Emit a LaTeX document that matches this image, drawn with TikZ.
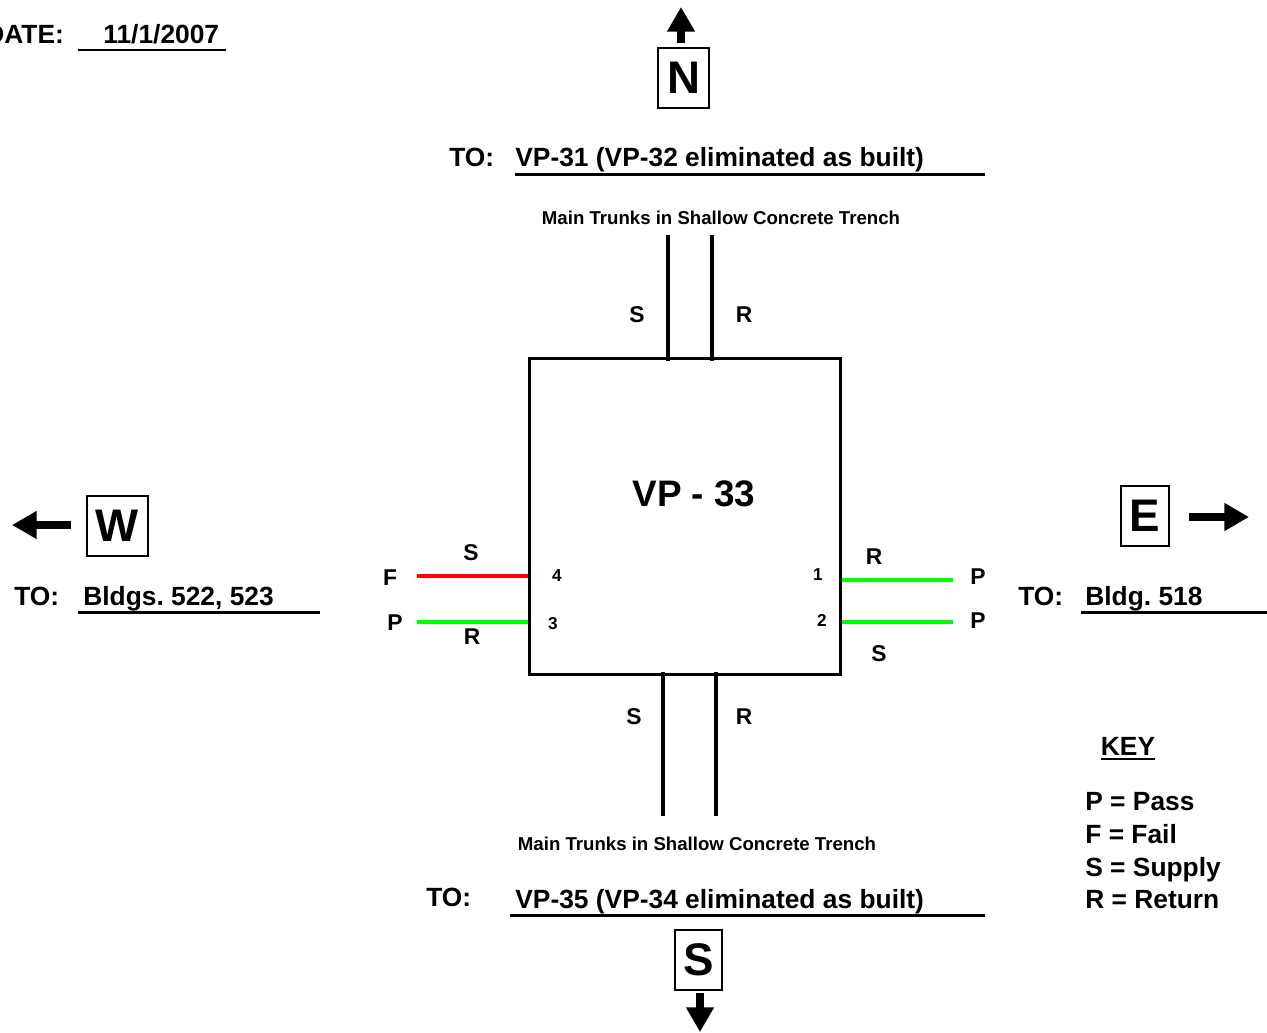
\documentclass[tikz,border=0pt]{standalone}
\usepackage{fontspec}
\setmainfont{Liberation Sans}
\usetikzlibrary{arrows.meta}
\frenchspacing

\begin{document}
\begin{tikzpicture}[x=0.02cm,y=-0.02cm,
    txt/.style={inner sep=0pt,font=\bfseries\fontsize{15}{18}\selectfont},
    tag/.style={inner sep=0pt,font=\bfseries\fontsize{13}{15}\selectfont},
    num/.style={inner sep=0pt,font=\bfseries\fontsize{9.8}{11}\selectfont},
    note/.style={inner sep=0pt,font=\bfseries\fontsize{10.6}{13}\selectfont},
    compass/.style={draw,line width=0.8pt,inner sep=0pt,font=\bfseries\fontsize{26}{30}\selectfont},
    dirarrow/.style={line width=5pt,-{Triangle[width=15pt,length=14pt]}},
    uline/.style={line width=1.7pt},
    trunk/.style={line width=2.4pt},
    pipe/.style={line width=2.8pt}]
  \useasboundingbox (0,0) rectangle (1267,1032);

  % date
  \node[txt,anchor=base west] (datelbl) at (-15,43) {DATE:};
  \node[txt,anchor=base west] (dateval) at (103,43) {11/1/2007};
  \draw[uline] (78,50) -- (226,50);

  % compass boxes and arrows
  \node[compass,minimum width=28.9pt,minimum height=34pt] (Nbox) at (683.5,78) {N};
  \node[compass,minimum width=34.6pt,minimum height=34pt] (Wbox) at (117.5,526) {W};
  \node[compass,minimum width=27.2pt,minimum height=34pt] (Ebox) at (1145,516) {E};
  \node[compass,minimum width=26.6pt,minimum height=34pt] (Sbox) at (698.5,960) {S};
  \coordinate (nTip) at (681,7);
  \coordinate (wTip) at (12,525);
  \coordinate (eTip) at (1249,517);
  \coordinate (sTip) at (700,1032);
  \draw[dirarrow,shorten <=2.3pt] (Nbox.north -| nTip) -- (nTip);
  \draw[dirarrow,shorten <=8.5pt] (Wbox.west |- wTip) -- (wTip);
  \draw[dirarrow,shorten <=10.8pt] (Ebox.east |- eTip) -- (eTip);
  \draw[dirarrow,shorten <=1.1pt] (Sbox.south -| sTip) -- (sTip);

  % destinations
  \node[txt,anchor=base west] (toN) at (449,166) {TO:};
  \node[txt,anchor=base west] (destN) at (515,166) {VP-31 (VP-32 eliminated as built)};
  \draw[uline] (515,174) -- (985,174);
  \node[txt,anchor=base west] (toS) at (426,906) {TO:};
  \node[txt,anchor=base west] (destS) at (515,908) {VP-35 (VP-34 eliminated as built)};
  \draw[uline] (510,915) -- (985,915);
  \node[txt,anchor=base west] (toW) at (14,605) {TO:};
  \node[txt,anchor=base west] (destW) at (83,605) {Bldgs. 522, 523};
  \draw[uline] (78,612) -- (320,612);
  \node[txt,anchor=base west] (toE) at (1018,605) {TO:};
  \node[txt,anchor=base west] (destE) at (1085,605) {Bldg. 518};
  \draw[uline] (1081,612) -- (1267,612);

  % vault
  \node[draw,line width=1.7pt,inner sep=0pt,minimum width=176.6pt,minimum height=179.7pt] (vp) at (685,516.5) {};
  \node[inner sep=0pt,font=\bfseries\fontsize{21}{25}\selectfont] (vptitle) at (694,494) {VP - 33};

  % main trunks
  \coordinate (trunkNS) at (668,235);
  \coordinate (trunkNR) at (712,235);
  \coordinate (trunkSS) at (663,816);
  \coordinate (trunkSR) at (716,816);
  \draw[trunk,shorten >=-2pt] (trunkNS) -- (trunkNS |- vp.north);
  \draw[trunk,shorten >=-2pt] (trunkNR) -- (trunkNR |- vp.north);
  \draw[trunk,shorten >=-2pt] (trunkSS) -- (trunkSS |- vp.south);
  \draw[trunk,shorten >=-2pt] (trunkSR) -- (trunkSR |- vp.south);
  \node[note] (trunkNote1) at (721,218) {Main Trunks in Shallow Concrete Trench};
  \node[note] (trunkNote2) at (697,844) {Main Trunks in Shallow Concrete Trench};
  \node[tag] (tnS) at (637,315) {S};
  \node[tag] (tnR) at (744,315) {R};
  \node[tag] (tsS) at (634,717) {S};
  \node[tag] (tsR) at (744,717) {R};

  % side pipes
  \coordinate (pipe4) at (417,576);
  \coordinate (pipe3) at (417,622);
  \coordinate (pipe1) at (953,580);
  \coordinate (pipe2) at (953,622);
  \draw[pipe,red] (pipe4) -- (pipe4 -| vp.west);
  \draw[pipe,green] (pipe3) -- (pipe3 -| vp.west);
  \draw[pipe,green] (pipe1) -- (pipe1 -| vp.east);
  \draw[pipe,green] (pipe2) -- (pipe2 -| vp.east);
  \node[tag] (wS) at (471,553) {S};
  \node[tag] (wF) at (390,578) {F};
  \node[tag] (wP) at (395,623) {P};
  \node[tag] (wR) at (472,637) {R};
  \node[num] (n4) at (557,576) {4};
  \node[num] (n3) at (553,624) {3};
  \node[tag] (eR) at (874,557) {R};
  \node[tag] (eP1) at (978,577) {P};
  \node[tag] (eP2) at (978,621) {P};
  \node[tag] (eS) at (879,654) {S};
  \node[num] (n1) at (818,575) {1};
  \node[num] (n2) at (822,620) {2};

  % key
  \node[txt] (keyhead) at (1128,746) {KEY};
  \draw[line width=1.2pt] (1101,759) -- (1155,759);
  \node[txt,anchor=base west] (keyP) at (1085,810) {P = Pass};
  \node[txt,anchor=base west] (keyF) at (1085,843) {F = Fail};
  \node[txt,anchor=base west] (keyS) at (1085,876) {S = Supply};
  \node[txt,anchor=base west] (keyR) at (1085,908) {R = Return};
\end{tikzpicture}
\end{document}
